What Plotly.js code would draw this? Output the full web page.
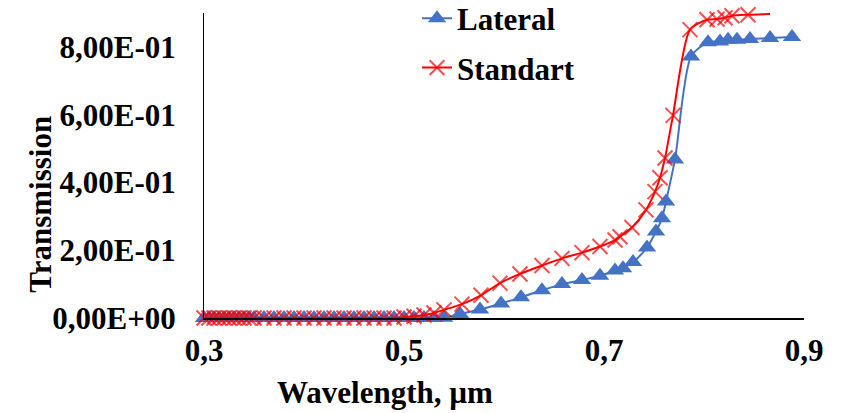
<!DOCTYPE html>
<html>
<head>
<meta charset="utf-8">
<script src="https://cdn.plot.ly/plotly-3.0.1.min.js"></script>
<style>html,body{margin:0;padding:0;background:#fff;}#chart{width:843px;height:413px;}</style>
</head>
<body>
<div id="chart"></div>
<script>
// Wavelength (µm) and transmission values
const lateralX = [0.300,0.305,0.310,0.315,0.320,0.325,0.330,0.335,0.340,0.345,0.350,
  0.36,0.37,0.38,0.39,0.40,0.41,0.42,0.43,0.44,0.45,0.46,0.47,0.48,0.49,0.50,0.51,0.52,0.53,0.54,
  0.556,0.576,0.597,0.617,0.638,0.658,0.678,0.696,0.711,0.719,0.729,0.743,0.752,0.758,0.762,0.771,
  0.787,0.804,0.816,0.824,0.833,0.846,0.866,0.888];
const lateralY = [0,0,0,0,0,0,0,0,0,0,0,
  0,0,0,0,0,0,0,0,0,0,0,0,0,0,0,0,0,0,0.001,
  0.012,0.025,0.043,0.061,0.082,0.100,0.112,0.125,0.140,0.147,0.165,0.208,0.255,0.294,0.344,0.468,
  0.772,0.814,0.816,0.821,0.821,0.823,0.826,0.829];

const standartX = [0.300,0.305,0.310,0.315,0.320,0.325,0.330,0.335,0.340,0.345,0.350,
  0.36,0.37,0.38,0.39,0.40,0.41,0.42,0.43,0.44,0.45,0.46,0.47,0.48,0.49,0.50,0.51,0.52,0.53,0.54,
  0.558,0.577,0.596,0.616,0.638,0.658,0.678,0.696,0.711,0.716,0.728,0.742,0.751,0.756,0.761,0.769,
  0.786,0.803,0.813,0.821,0.828,0.844,0.866];
const standartY = [0,0,0,0,0,0,0,0,0,0,0,
  0,0,0,0,0,0,0,0,0,0,0,0,0,0,0.003,0.005,0.009,0.015,0.024,
  0.041,0.067,0.103,0.130,0.155,0.176,0.193,0.211,0.230,0.240,0.267,0.319,0.373,0.414,0.472,0.598,
  0.851,0.880,0.882,0.886,0.892,0.895,0.897];

const seriesNames = ["Lateral", "Standart"];
const yTickVals = [0, 0.2, 0.4, 0.6, 0.8];
const yTickText = ["0,00E+00", "2,00E-01", "4,00E-01", "6,00E-01", "8,00E-01"];
const xTickVals = [0.3, 0.5, 0.7, 0.9];
const xTitle = "Wavelength, µm";
const yTitle = "Transmission";

const FONT = "'Liberation Serif', 'Times New Roman', serif";
const BLUE = "#4472C4";
const RED = "#FF0000";

// last Standart point is a line end with no marker
const stdSizes = standartX.map((_, i) => i === standartX.length - 1 ? 0 : 15);

const traces = [
  {
    x: lateralX, y: lateralY, name: seriesNames[0], type: "scatter", mode: "lines+markers",
    legendgroup: "a", cliponaxis: false,
    line: {color: BLUE, width: 2, shape: "spline", smoothing: 0.7},
    marker: {symbol: "triangle-up", size: 16, color: BLUE}
  },
  {
    x: standartX, y: standartY, name: seriesNames[1], type: "scatter", mode: "lines+markers",
    legendgroup: "b", cliponaxis: false,
    line: {color: RED, width: 2, shape: "spline", smoothing: 0.7},
    marker: {symbol: "x-thin", size: stdSizes, color: RED, line: {color: RED, width: 2}}
  }
];

const layout = {
  width: 843, height: 413,
  margin: {l: 204, r: 39, t: 13, b: 95, pad: 0, autoexpand: false},
  paper_bgcolor: "#ffffff", plot_bgcolor: "#ffffff",
  separators: ", ",
  font: {family: FONT, size: 31, color: "#000000", weight: "bold"},
  showlegend: true,
  legend: {
    x: 0.355, y: 1.07, xanchor: "left", yanchor: "top",
    bgcolor: "rgba(0,0,0,0)", borderwidth: 0,
    traceorder: "grouped", tracegroupgap: 6,
    font: {family: FONT, size: 31, color: "#000000", weight: "bold"}
  },
  xaxis: {
    range: [0.3, 0.9], tickvals: xTickVals, tickformat: ".1f", automargin: false,
    showgrid: false, zeroline: false, showline: true, linecolor: "#000000", linewidth: 2,
    ticks: "", ticklabelstandoff: 4,
    tickfont: {family: FONT, size: 31, color: "#000000", weight: "bold"}
  },
  yaxis: {
    range: [0, 0.9], tickvals: yTickVals, ticktext: yTickText, automargin: false,
    showgrid: false, zeroline: false, showline: true, linecolor: "#000000", linewidth: 1,
    ticks: "", ticklabelstandoff: 21,
    tickfont: {family: FONT, size: 31, color: "#000000", weight: "bold"}
  },
  annotations: [
    {text: xTitle, xref: "paper", yref: "paper", x: 0.3017, y: -0.243,
     xanchor: "center", yanchor: "middle", showarrow: false,
     font: {family: FONT, size: 31, color: "#000000", weight: "bold"}},
    {text: yTitle, xref: "paper", yref: "paper", x: -0.272, y: 0.374, textangle: -90,
     xanchor: "center", yanchor: "middle", showarrow: false,
     font: {family: FONT, size: 31, color: "#000000", weight: "bold"}}
  ]
};

Plotly.newPlot("chart", traces, layout, {displayModeBar: false, staticPlot: true});
</script>
</body>
</html>
